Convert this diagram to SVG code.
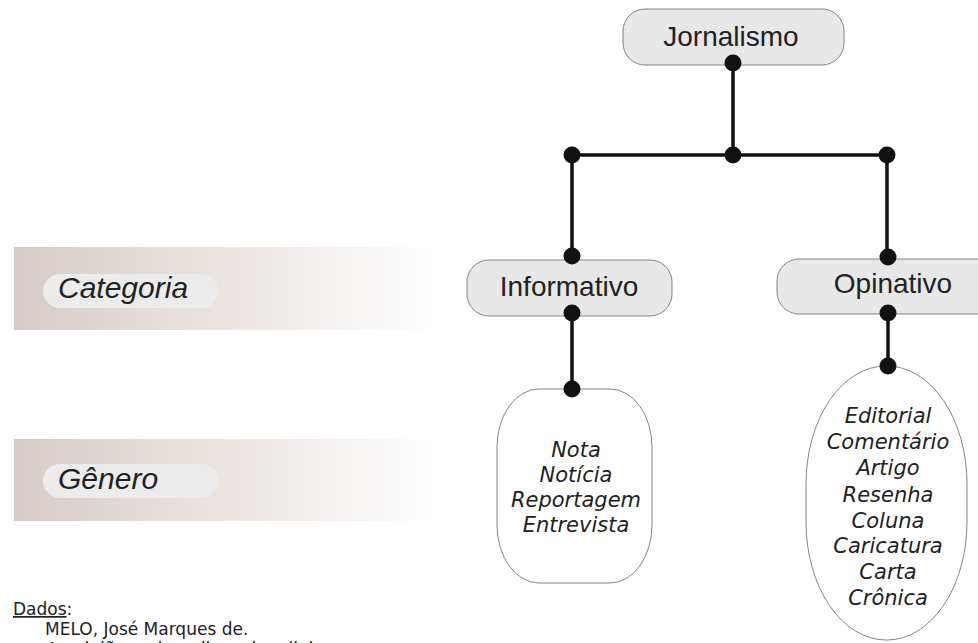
<svg xmlns="http://www.w3.org/2000/svg" width="978" height="643" viewBox="0 0 978 643">
<defs>
<linearGradient id="band" x1="0" y1="0" x2="1" y2="0">
<stop offset="0" stop-color="#d6ccc8"/>
<stop offset="0.5" stop-color="#ebe5e2"/>
<stop offset="1" stop-color="#ffffff"/>
</linearGradient>
</defs>
<style>
.box{fill:#e8e8e8;stroke:#777;stroke-width:0.9}
.gen{fill:#fff;stroke:#777;stroke-width:0.9}
.pill{fill:#ececec}
.lbl{font-family:"Liberation Sans",Arial,sans-serif;font-size:28px;fill:#222;text-anchor:middle}
.side{font-family:"Liberation Sans",Arial,sans-serif;font-size:30px;font-style:italic;fill:#222}
.g{font-family:"DejaVu Sans",Verdana,sans-serif;font-size:21px;font-style:italic;fill:#222;text-anchor:middle}
.ref{font-family:"DejaVu Sans",Verdana,sans-serif;font-size:17px;fill:#222}
.ln{stroke:#111;stroke-width:3.5;fill:none}
.dot{fill:#111}
</style>
<rect width="978" height="643" fill="#fff"/>
<g id="band-categoria">
<rect x="14" y="247" width="423" height="83" fill="url(#band)"/>
<rect class="pill" x="43" y="274" width="175" height="34" rx="17"/>
<text class="side" x="58" y="298">Categoria</text>
</g>
<g id="band-genero">
<rect x="14" y="439" width="423" height="82" fill="url(#band)"/>
<rect class="pill" x="43" y="464" width="175" height="34" rx="17"/>
<text class="side" x="58" y="489">Gênero</text>
</g>
<g id="jornalismo">
<rect class="box" x="623" y="9" width="221" height="56" rx="22"/>
<text class="lbl" x="731" y="46">Jornalismo</text>
</g>
<g id="informativo">
<rect class="box" x="467" y="260" width="205" height="56" rx="22"/>
<text class="lbl" x="569" y="296">Informativo</text>
</g>
<g id="opinativo">
<rect class="box" x="777" y="259" width="225" height="55" rx="22"/>
<text class="lbl" x="893" y="293">Opinativo</text>
</g>
<g id="generos-informativo">
<rect class="gen" x="497" y="389" width="155" height="194" rx="42" ry="58"/>
<text class="g" x="576" y="457">Nota</text>
<text class="g" x="576" y="482">Notícia</text>
<text class="g" x="576" y="507">Reportagem</text>
<text class="g" x="576" y="532">Entrevista</text>
</g>
<g id="generos-opinativo">
<rect class="gen" x="806" y="366" width="161" height="274" rx="80" ry="118"/>
<text class="g" x="888" y="423">Editorial</text>
<text class="g" x="888" y="449">Comentário</text>
<text class="g" x="888" y="475">Artigo</text>
<text class="g" x="888" y="502">Resenha</text>
<text class="g" x="888" y="528">Coluna</text>
<text class="g" x="888" y="553">Caricatura</text>
<text class="g" x="888" y="579">Carta</text>
<text class="g" x="888" y="605">Crônica</text>
</g>
<g id="connectors">
<path class="ln" d="M733 63V155M572 155H887M572 155V257M887 155V258M572 312V389M888 313V366"/>
<circle class="dot" cx="733" cy="63" r="8.5"/>
<circle class="dot" cx="572" cy="155" r="8.5"/>
<circle class="dot" cx="733" cy="155" r="8.5"/>
<circle class="dot" cx="887" cy="155" r="8.5"/>
<circle class="dot" cx="572" cy="256" r="8.5"/>
<circle class="dot" cx="888" cy="257" r="8.5"/>
<circle class="dot" cx="572" cy="313" r="8.5"/>
<circle class="dot" cx="888" cy="313" r="8.5"/>
<circle class="dot" cx="572" cy="389" r="8.5"/>
<circle class="dot" cx="888" cy="366" r="8.5"/>
</g>
<g id="referencia">
<text class="ref" x="13" y="615"><tspan text-decoration="underline">Dados</tspan>:</text>
<text class="ref" x="45" y="635">MELO, José Marques de.</text>
<text class="ref" x="45" y="655" font-style="italic">A opinião no jornalismo brasileiro</text>
</g>
</svg>
